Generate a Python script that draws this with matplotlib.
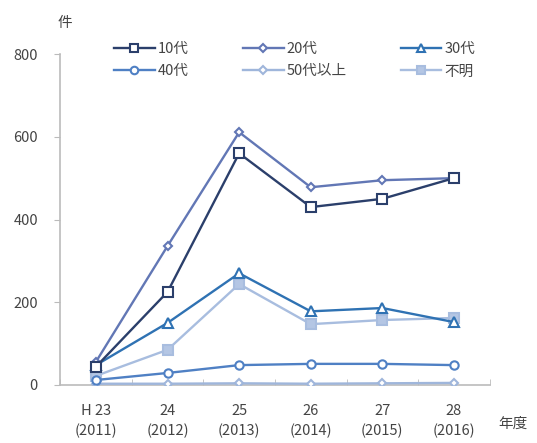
import matplotlib.pyplot as plt

plt.rcParams['font.family'] = ['Noto Sans CJK JP', 'DejaVu Sans']

years = ["H 23\n(2011)", "24\n(2012)", "25\n(2013)", "26\n(2014)", "27\n(2015)", "28\n(2016)"]
teens = [44, 225, 560, 430, 450, 500]
twenties = [56, 336, 611, 478, 495, 500]
thirties = [48, 150, 270, 178, 186, 152]
forties = [12, 29, 48, 51, 51, 48]
fifties_plus = [3, 3, 4, 3, 4, 5]
unknown = [22, 85, 244, 147, 157, 162]

fig = plt.figure(figsize=(5.37, 4.43), dpi=100)
ax = fig.add_axes([0.112, 0.131, 0.800, 0.747])

x = range(len(years))
# (label, data, color, marker, size, face)
series = [
    ("10代", teens, "#2b3f6b", "s", 6.5, "white"),
    ("20代", twenties, "#6277b5", "D", 4.5, "white"),
    ("30代", thirties, "#2f72b3", "^", 6.5, "white"),
    ("40代", forties, "#4f80c4", "o", 6, "white"),
    ("50代以上", fifties_plus, "#9fb6db", "D", 4.5, "white"),
    ("不明", unknown, "#a8bddf", "s", 7, "#b4c6e4"),
]
order = [4, 3, 5, 2, 1, 0]
handles = {}
for i in order:
    lab, vals, col, mk, ms, fc = series[i]
    h, = ax.plot(x, vals, color=col, lw=1.7, marker=mk, markersize=ms,
                 markerfacecolor=fc, markeredgecolor=col, markeredgewidth=1.5,
                 label=lab, zorder=3 + (5 - i))
    handles[i] = h

ax.set_xlim(-0.5, 5.5)
ax.set_ylim(0, 800)
ax.set_yticks([0, 200, 400, 600, 800])
ax.set_xticks(list(x))
ax.set_xticklabels(years, linespacing=1.45)
ax.set_xticks([i + 0.5 for i in range(-1, 6)], minor=True)
ax.tick_params(axis='x', which='major', length=0, pad=14, labelsize=10.5, colors='#444444')
ax.tick_params(axis='x', which='minor', length=4, direction='in', color='#bbbbbb')
ax.tick_params(axis='y', length=4, direction='out', color='#bbbbbb', labelsize=10.5,
               labelcolor='#444444', pad=12)
for s in ['top', 'right']:
    ax.spines[s].set_visible(False)
for s in ['left', 'bottom']:
    ax.spines[s].set_color('#bbbbbb')
    ax.spines[s].set_linewidth(1.2)

leg = ax.legend([handles[i] for i in [0, 3, 1, 4, 2, 5]],
                [series[i][0] for i in [0, 3, 1, 4, 2, 5]],
                ncol=3, loc='upper left', bbox_to_anchor=(0.095, 1.075),
                frameon=False, fontsize=10.5, handlelength=2.8, handletextpad=0.2,
                columnspacing=3.7, labelspacing=0.55, markerscale=0.9)
for t in leg.get_texts():
    t.set_color('#444444')

fig.text(0.108, 0.940, "件", fontsize=10.5, color='#444444')
fig.text(0.928, 0.035, "年度", fontsize=10.5, color='#444444', ha='left')

fig.savefig("out.png", dpi=100)
